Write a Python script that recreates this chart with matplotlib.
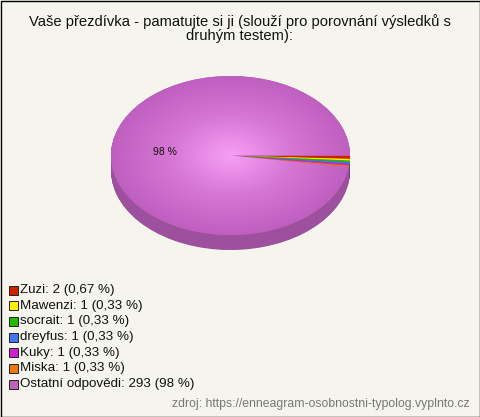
import numpy as np
import matplotlib
matplotlib.use("Agg")
import matplotlib.pyplot as plt
from matplotlib.patches import Wedge, Rectangle
from matplotlib.colors import to_rgb, LinearSegmentedColormap

# ── Data ──
names = ["Zuzi", "Mawenzi", "socrait", "dreyfus", "Kuky", "Miska", "Ostatní odpovědi"]
counts = [2, 1, 1, 1, 1, 1, 293]
colors = ["#cc2200", "#ffee00", "#22bb00", "#4477ee", "#cc22cc", "#ee7711", "#c062c0"]
title = "Vaše přezdívka - pamatujte si ji (slouží pro porovnání výsledků s\ndruhým testem):"
source = "zdroj: https://enneagram-osobnostni-typolog.vyplnto.cz"

BG = "#f5f5ee"
plt.rcParams["font.family"] = ["Liberation Sans", "DejaVu Sans"]


def fmt_pct(p):
    if p >= 10:
        return f"{p:.0f} %"
    return f"{p:.2f} %".replace(".", ",")


def darker(c, f=0.82):
    r, g, b = to_rgb(c)
    return (r * f, g * f, b * f)


W, H = 480, 417
fig = plt.figure(figsize=(W / 100, H / 100), dpi=100, facecolor=BG)

# pie geometry (pixels)
cx, cy, rx, ry, depth_px = 230.5, 155.5, 119.5, 79.5, 15
xl, yl_top, yl_bot = 1.2, 1.2, 1.4
left = cx - xl * rx
top = cy - yl_top * ry
w_px, h_px = 2 * xl * rx, (yl_top + yl_bot) * ry
ax = fig.add_axes([left / W, 1 - (top + h_px) / H, w_px / W, h_px / H])
ax.set_xlim(-xl, xl)
ax.set_ylim(-yl_bot, yl_top)
ax.set_aspect("auto")
ax.axis("off")

total = sum(counts)
fracs = np.array(counts) / total
ends = -np.cumsum(fracs) * 360
starts = np.concatenate([[0], ends[:-1]])
d = depth_px / ry

# side of the 3D pie: stacked wedges
layers = 30
for k in range(layers, 0, -1):
    off = -d * k / layers
    for th1, th2, c in zip(ends, starts, colors):
        ax.add_patch(Wedge((0, off), 1, th1, th2, facecolor=darker(c), edgecolor="none"))

# top face
grad_cmap = LinearSegmentedColormap.from_list("g", ["#f79ef7", "#d677d6", "#bf5fbf"])
gx, gy = np.meshgrid(np.linspace(-1, 1, 300), np.linspace(-1, 1, 300))
rr = np.sqrt(gx ** 2 + gy ** 2)
for i, (th1, th2, c) in enumerate(zip(ends, starts, colors)):
    wd = Wedge((0, 0), 1, th1, th2, facecolor=c, edgecolor="none")
    ax.add_patch(wd)
    if fracs[i] > 0.5:
        im = ax.imshow(rr, extent=(-1, 1, -1, 1), cmap=grad_cmap, vmin=0, vmax=1,
                       origin="lower", aspect="auto", interpolation="bilinear", zorder=2)
        im.set_clip_path(wd)
    pct = fracs[i] * 100
    if pct > 5:
        mid = np.deg2rad((th1 + th2) / 2)
        ax.text(0.55 * np.cos(mid), 0.55 * np.sin(mid), fmt_pct(pct), fontsize=7.5,
                ha="center", va="center", color="#111111", zorder=3)

# overlay for texts and legend in pixel coords
ov = fig.add_axes([0, 0, 1, 1], facecolor="none")
ov.set_xlim(0, W)
ov.set_ylim(H, 0)
ov.axis("off")

ov.text(240, 28.5, title, ha="center", va="center", fontsize=10.6, color="#111111",
        linespacing=1.0)

row0, step = 290, 15.7
for i, (n, c, v) in enumerate(zip(names, colors, counts)):
    y = row0 + i * step
    ov.add_patch(Rectangle((8.5, y - 4.5), 9, 9, facecolor=c, edgecolor="#222222", lw=0.7))
    ov.text(20.5, y, f"{n}: {v} ({fmt_pct(v / total * 100)})", ha="left", va="center",
            fontsize=9.6, color="#111111")

ov.text(470, 404, source, ha="right", va="center", fontsize=8.8, color="#777777")

ov.add_patch(Rectangle((0.5, 0.5), W - 1, H - 1, facecolor="none", edgecolor="black", lw=1))

fig.savefig("out.png", dpi=100, facecolor=BG)
